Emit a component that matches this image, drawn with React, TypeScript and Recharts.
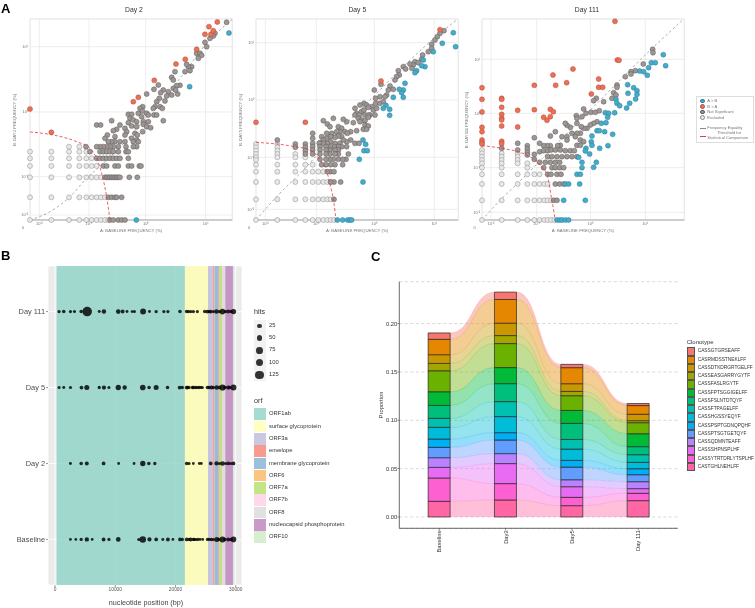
import React from "react";
import {
  Area,
  Bar,
  BarChart,
  CartesianGrid,
  ComposedChart,
  ReferenceArea,
  Scatter,
  ScatterChart,
  XAxis,
  YAxis,
  ZAxis,
} from "recharts";

type Pair = [number, number];

// Panel A: both axes use the plot's own transformed frequency scale (0 = no clones)
const powerLabels = ["10⁻²", "10⁻¹", "10⁰", "10¹"];

const day2Excluded: Pair[] = [
  [0, 205], [0, 185], [0, 162], [0, 128], [0, 68], [0, 0],
  [64, 205], [64, 185], [64, 162], [64, 128], [64, 68], [64, 0],
  [117, 220], [117, 205], [117, 185], [117, 162], [117, 128], [117, 68], [117, 0],
  [148, 220], [148, 205], [148, 185], [148, 162], [148, 128], [148, 68], [148, 0],
  [169, 205], [169, 185], [169, 162], [169, 128], [169, 68], [169, 0],
  [185, 185], [185, 162], [185, 128], [185, 68], [185, 0],
  [200, 162], [200, 128], [200, 68], [200, 0],
  [213, 128], [213, 68], [213, 0],
  [225, 68], [225, 0], [235, 0],
];
const day2Grey: Pair[] = [
  [590, 593], [555, 560], [550, 552], [540, 545], [525, 533], [530, 520], [500, 500], [510, 500], [515, 494], [505, 485],
  [485, 460], [475, 460], [470, 467], [480, 448], [465, 445], [435, 445], [425, 428], [430, 420], [450, 404], [440, 403],
  [430, 395], [443, 378], [437, 390], [425, 375], [415, 385], [400, 390], [392, 382], [410, 372], [388, 365], [380, 355],
  [405, 357], [390, 340], [375, 340], [370, 335], [397, 335], [350, 378], [372, 392], [385, 405], [338, 340], [330, 335],
  [337, 327], [325, 320], [350, 320], [355, 315], [372, 315], [380, 315], [295, 317], [305, 317], [300, 305], [310, 300],
  [320, 295], [335, 310], [340, 295], [355, 295], [340, 287], [350, 280], [362, 277], [338, 265], [400, 298], [295, 292],
  [305, 282], [320, 280], [285, 275], [290, 265], [270, 285], [260, 272], [250, 268], [232, 255], [225, 245], [245, 298],
  [200, 285], [212, 285], [255, 250], [285, 255], [315, 260], [322, 255], [305, 245], [320, 240], [310, 235], [325, 235],
  [270, 235], [285, 235], [255, 235], [245, 235], [235, 235],
  [320, 220], [310, 220], [288, 220], [265, 220], [250, 220], [240, 220], [230, 220], [220, 220], [210, 220], [200, 220], [168, 220],
  [180, 205], [210, 205], [220, 205], [230, 205], [240, 205], [250, 205], [265, 205], [288, 205], [295, 205],
  [200, 185], [210, 185], [220, 185], [230, 185], [240, 185], [250, 185], [260, 185], [270, 185], [295, 185],
  [220, 162], [230, 162], [255, 162], [265, 162], [295, 162], [305, 162], [328, 162], [333, 162],
  [225, 128], [230, 128], [235, 128], [240, 128], [245, 128], [250, 128], [255, 128], [260, 128], [265, 128], [270, 128], [298, 128], [322, 128],
  [235, 68], [245, 68], [255, 68], [260, 68], [275, 68],
  [240, 0], [250, 0], [265, 0], [275, 0], [285, 0],
];
const day2Up: Pair[] = [
  [0, 333], [64, 263], [310, 355], [325, 368], [373, 419], [438, 468], [466, 482], [500, 512], [525, 557], [543, 557], [550, 568], [537, 580], [562, 594],
];
const day2Down: Pair[] = [[479, 400], [597, 561], [319, 0]];
const day2Threshold: Pair[] = [[0, 264], [70, 255], [140, 235], [180, 215], [215, 140], [230, 70], [240, 0]];
const day2Equality: Pair[] = [[0, 0], [60, 25], [120, 70], [170, 125], [220, 170], [290, 240], [350, 310], [450, 425], [530, 530], [607, 602]];

const day5Excluded: Pair[] = [
  [0, 228], [0, 218], [0, 208], [0, 198], [0, 188], [0, 180], [0, 166], [0, 145], [0, 114], [0, 62], [0, 0],
  [64, 228], [64, 218], [64, 208], [64, 198], [64, 188], [64, 166], [64, 145], [64, 114], [64, 62], [64, 0],
  [118, 198], [118, 188], [118, 166], [118, 145], [118, 114], [118, 62], [118, 0],
  [148, 188], [148, 166], [148, 145], [148, 114], [148, 62], [148, 0],
  [170, 166], [170, 145], [170, 114], [170, 62], [170, 0],
  [187, 145], [187, 114], [187, 62], [187, 0],
  [202, 145], [202, 114], [202, 62], [202, 0],
  [214, 114], [214, 62], [214, 0],
  [224, 114], [224, 62], [224, 0], [234, 0],
];
const day5Grey: Pair[] = [
  [564, 568], [552, 560], [544, 550], [537, 540], [527, 527], [527, 515], [517, 505], [500, 495], [497, 482], [477, 475],
  [472, 465], [487, 472], [462, 468], [468, 455], [442, 460], [449, 453], [427, 448], [430, 435], [422, 430], [417, 420],
  [375, 407], [355, 390], [402, 402], [397, 390], [412, 392], [392, 375], [387, 370], [372, 370], [359, 365], [359, 350],
  [372, 350], [382, 355], [347, 340], [352, 330], [362, 335], [357, 315], [342, 315], [324, 350], [312, 345], [297, 335],
  [332, 345], [337, 338], [317, 325], [324, 330], [302, 320], [297, 315], [310, 315], [327, 315], [337, 315], [307, 305],
  [317, 300], [327, 298], [337, 308], [312, 295], [292, 292], [272, 295], [262, 302], [232, 305], [202, 298], [214, 288],
  [222, 280], [247, 280], [257, 275], [267, 265], [252, 265], [242, 265], [227, 260], [212, 260], [197, 250], [327, 285],
  [337, 282], [322, 272], [332, 272], [302, 268], [284, 265], [274, 260], [257, 250], [247, 252], [237, 248], [224, 250],
  [212, 245], [202, 240], [192, 232], [170, 260], [170, 245], [297, 230], [309, 230], [284, 240], [272, 235], [262, 240],
  [252, 230], [237, 230], [224, 235], [214, 230], [202, 230], [190, 230], [170, 230],
  [272, 220], [257, 220], [247, 220], [234, 220], [222, 220], [210, 220], [192, 220], [170, 220],
  [247, 210], [237, 210], [222, 210], [210, 210], [192, 210], [170, 210],
  [277, 198], [247, 198], [237, 198], [222, 198], [210, 198], [192, 198], [170, 198],
  [270, 182], [260, 182], [247, 182], [232, 182], [222, 182], [210, 182], [192, 182],
  [260, 166], [237, 166], [224, 166], [210, 166], [197, 166],
  [224, 145], [234, 145], [214, 145], [254, 114], [234, 114], [224, 114], [234, 62],
  [64, 240], [118, 228], [118, 218], [148, 228], [148, 218], [148, 208], [148, 198],
];
const day5Up: Pair[] = [[552, 571], [375, 417], [0, 293], [148, 293]];
const day5Down: Pair[] = [
  [592, 562], [559, 530], [599, 520], [532, 505], [502, 480], [507, 460], [497, 463], [482, 448], [477, 442], [447, 410],
  [442, 390], [437, 382], [430, 392], [412, 368], [442, 368], [390, 344], [401, 332], [401, 314], [382, 335], [321, 240],
  [329, 227], [324, 208], [334, 208], [310, 182], [321, 114], [244, 0], [260, 0], [275, 0], [282, 0], [287, 0],
];
const day5Threshold: Pair[] = [[0, 233], [62, 228], [117, 220], [167, 208], [192, 180], [214, 140], [224, 100], [234, 50], [240, 0]];
const day5Equality: Pair[] = [[0, 0], [62, 70], [142, 150], [242, 260], [352, 370], [452, 470], [552, 560], [602, 600]];

const day111Excluded: Pair[] = [
  [0, 210], [0, 200], [0, 190], [0, 180], [0, 170], [0, 157], [0, 137], [0, 108], [0, 59], [0, 0],
  [59, 200], [59, 190], [59, 180], [59, 170], [59, 157], [59, 137], [59, 108], [59, 59], [59, 0],
  [107, 200], [107, 190], [107, 180], [107, 170], [107, 137], [107, 108], [107, 59], [107, 0],
  [136, 170], [136, 157], [136, 137], [136, 108], [136, 59], [136, 0],
  [157, 137], [157, 108], [157, 59], [157, 0],
  [173, 137], [173, 108], [173, 59], [173, 0],
  [187, 108], [187, 59], [187, 0],
  [197, 108], [197, 59], [197, 0],
  [207, 59], [207, 0], [217, 0],
];
const day111Grey: Pair[] = [
  [512, 512], [513, 502], [484, 468], [460, 448], [447, 445], [447, 438], [430, 430], [405, 405], [405, 398], [395, 382],
  [402, 375], [390, 365], [365, 355], [343, 365], [335, 358], [305, 333], [312, 320], [300, 310], [283, 313], [285, 305],
  [327, 323], [340, 323], [352, 328], [345, 295], [335, 290], [325, 285], [315, 275], [305, 275], [298, 280], [285, 290],
  [265, 278], [255, 284], [250, 290], [220, 265], [205, 252], [157, 247], [295, 260], [285, 260], [270, 260], [255, 250],
  [240, 250], [280, 250], [295, 240], [305, 235], [285, 224], [295, 224], [255, 240], [235, 224], [227, 223], [205, 223],
  [195, 223], [185, 223], [173, 230], [107, 230], [59, 215], [136, 223], [136, 213], [136, 203], [136, 195], [107, 210],
  [157, 197], [173, 205], [185, 208], [197, 208], [207, 210], [220, 210], [235, 210], [250, 208], [265, 208], [277, 208], [157, 182],
  [197, 190], [210, 190], [225, 190], [240, 190], [255, 190], [270, 190], [285, 190],
  [173, 173], [190, 173], [205, 173], [220, 173], [233, 173],
  [185, 157], [210, 157], [220, 157], [233, 157], [245, 157],
  [197, 137], [207, 137], [225, 137], [237, 137],
  [220, 108], [233, 108], [245, 108], [215, 59], [225, 59],
];
const day111Up: Pair[] = [
  [399, 596], [406, 480], [411, 479], [273, 453], [213, 435], [254, 412], [157, 404], [221, 404], [350, 423], [350, 398],
  [362, 398], [328, 378], [0, 397], [0, 362], [59, 365], [59, 362], [0, 324], [59, 338], [59, 317], [107, 329],
  [157, 331], [205, 332], [214, 325], [205, 310], [185, 308], [195, 299], [59, 305], [59, 300], [59, 282], [0, 278],
  [107, 279], [0, 265], [0, 240], [0, 233], [0, 228], [59, 236], [59, 229],
];
const day111Down: Pair[] = [
  [544, 496], [551, 463], [508, 472], [520, 472], [500, 457], [473, 447], [485, 445], [496, 434], [455, 397], [465, 388],
  [438, 380], [465, 377], [461, 363], [443, 350], [434, 336], [437, 406], [402, 362], [405, 350], [413, 343], [398, 322],
  [370, 322], [380, 320], [377, 308], [372, 292], [358, 290], [345, 268], [352, 268], [368, 265], [392, 257], [330, 252],
  [328, 235], [330, 224], [312, 215], [310, 207], [323, 198], [378, 223], [353, 215], [343, 173], [335, 158], [290, 188],
  [300, 173], [300, 157], [285, 137], [295, 137], [251, 108], [260, 108], [293, 108], [245, 59], [310, 59], [225, 0],
  [233, 0], [240, 0], [250, 0], [260, 0],
];
const day111Threshold: Pair[] = [[0, 223], [60, 215], [107, 205], [140, 192], [175, 165], [197, 130], [207, 75], [220, 0]];
const day111Equality: Pair[] = [[0, 0], [55, 60], [107, 110], [235, 240], [325, 330], [405, 410], [495, 500], [600, 598]];

// Panel B
const dayLabels = ["Baseline", "Day 2", "Day 5", "Day 111"];
const baselineHits: Pair[] = [
  [2560, 3], [3450, 2], [4340, 8], [5280, 20], [6170, 3], [8060, 14], [8950, 6], [10500, 25], [13900, 5], [14570, 55],
  [15680, 18], [16790, 12], [17900, 4], [18740, 14], [19570, 3], [20740, 12], [21130, 8], [21850, 12], [22240, 8], [22520, 14],
  [22960, 8], [23100, 6], [23400, 5], [23740, 8], [24100, 3], [24520, 3], [25300, 6], [25600, 8], [25960, 10], [26300, 5],
  [26850, 30], [27200, 8], [27800, 45], [28200, 10], [28750, 15], [29200, 10], [29630, 40],
];
const day2Hits: Pair[] = [
  [2560, 4], [4340, 10], [5280, 15], [8060, 12], [10560, 3], [13120, 3], [14570, 35], [15570, 10], [16570, 8], [21850, 10],
  [22240, 6], [22960, 3], [23960, 4], [24290, 3], [25850, 12], [26800, 18], [27300, 6], [27800, 22], [28300, 5], [28750, 12],
  [29200, 6], [29630, 12],
];
const day5Hits: Pair[] = [
  [670, 6], [1450, 4], [2560, 6], [4390, 12], [5280, 30], [7340, 8], [8120, 18], [8950, 5], [10500, 35], [11560, 20],
  [14570, 40], [15620, 10], [16790, 30], [18680, 10], [20680, 12], [21130, 8], [21850, 12], [22000, 8], [22240, 10], [22800, 8],
  [23000, 8], [23350, 8], [23600, 6], [23910, 8], [24200, 4], [24460, 5], [25300, 10], [25600, 8], [25960, 15], [26300, 8],
  [26850, 20], [27300, 8], [27800, 50], [28200, 10], [28750, 18], [29000, 10], [29630, 45],
];
const day111Hits: Pair[] = [
  [670, 8], [1450, 10], [2560, 6], [3230, 5], [4340, 10], [5340, 135], [7340, 4], [8120, 22], [10500, 25], [11230, 14],
  [11950, 4], [12790, 3], [13180, 5], [14620, 45], [15680, 4], [16790, 8], [18070, 6], [18740, 6], [20740, 10], [21850, 10],
  [22150, 6], [22520, 8], [22960, 8], [23630, 6], [24850, 10], [25300, 12], [25600, 8], [25850, 12], [26300, 6], [26800, 22],
  [27300, 8], [27800, 40], [28300, 8], [28750, 14], [29200, 10], [29630, 35],
];
const hitsByDay = [baselineHits, day2Hits, day5Hits, day111Hits];
const hitsLegend = [25, 50, 75, 100, 125];

const orfNames = ["ORF1ab", "surface glycoprotein", "ORF3a", "envelope", "membrane glycoprotein", "ORF6", "ORF7a", "ORF7b", "ORF8", "nucleocapsid phosphoprotein", "ORF10"];
const orfStarts = [266, 21563, 25393, 26245, 26523, 27202, 27394, 27756, 27894, 28274, 29558];
const orfEnds = [21555, 25384, 26220, 26472, 27191, 27387, 27759, 27887, 28259, 29533, 29674];
const orfColors = ["#8DD3C7", "#FFFFB3", "#BEBADA", "#FB8072", "#80B1D3", "#FDB462", "#B3DE69", "#FCCDE5", "#D9D9D9", "#BC80BD", "#CCEBC5"];

// Panel C
const timepoints = ["Baseline", "Day2", "Day5", "Day 111"];
const clonotypes = [
  "CASSGTGRSEAFF", "CASRMDSSTNEKLFF", "CASSDTKDRGRTGELFF", "CASSEASGARRYGYTF", "CASSFASLRGYTF",
  "CASSFPTSGGIGELFF", "CASSFSLNTDTQYF", "CASSFTPAGELFF", "CASSHGSSYEQYF", "CASSPSPTGDNQPQHF",
  "CASSPTSGTGETQYF", "CASSQDMNTEAFF", "CASSSHPNSPLHF", "CASSYTRTDRLYTSPLHF", "CASTGHLNEHLFF",
];
const cloneColors = ["#F8766D", "#E58700", "#C99800", "#A3A500", "#6BB100", "#00BA38", "#00BF7D", "#00C0AF", "#00BCD8", "#00B0F6", "#619CFF", "#B983FF", "#E76BF3", "#FD61D1", "#FF67A4"];
const baselineShare = [0.0066, 0.0159, 0.009, 0.0076, 0.0217, 0.0141, 0.0134, 0.0093, 0.0121, 0.0086, 0.0107, 0.01, 0.011, 0.0241, 0.0162];
const day2Share = [0.0076, 0.0245, 0.0128, 0.0083, 0.0248, 0.0166, 0.0186, 0.0155, 0.0166, 0.0076, 0.0141, 0.0103, 0.0207, 0.0169, 0.0176];
const day5Share = [0.0034, 0.0166, 0.0079, 0.0045, 0.0152, 0.0134, 0.0166, 0.01, 0.0117, 0.0069, 0.0131, 0.0072, 0.011, 0.0086, 0.0117];
const day111Share = [0.0021, 0.009, 0.0066, 0.0021, 0.0114, 0.0134, 0.0083, 0.0079, 0.0066, 0.0062, 0.0072, 0.0072, 0.0048, 0.0076, 0.0169];
const shares = [baselineShare, day2Share, day5Share, day111Share];
const proportionTicks = [0, 0.05, 0.1, 0.15, 0.2];

const BAR_HALF = 0.166;
const TIME_DOMAIN = [-0.603, 3.594];
const SHARE_DOMAIN = [-0.0117, 0.2433];

// each time point gets flat shoulders at its bar edges, the ribbons curve between them
const flowRows: Record<string, number>[] = [];
shares.forEach((share, t) => {
  [t - BAR_HALF, t, t + BAR_HALF].forEach((position) => {
    const row: Record<string, number> = { position };
    share.forEach((v, i) => {
      row[`flow${i}`] = v;
    });
    flowRows.push(row);
  });
});
const barRows = shares.map((share, t) => {
  const row: Record<string, number> = { position: t };
  share.forEach((v, i) => {
    row[`bar${i}`] = v;
  });
  return row;
});
const stackOrder = clonotypes.map((_, i) => clonotypes.length - 1 - i);

const toRows = (pairs: Pair[]) => pairs.map(([x, y]) => ({ x, y }));

const dot = (fill: string, stroke: string) => (p: any) => (
  <circle cx={p.cx} cy={p.cy} r={2.5} fill={fill} stroke={stroke} strokeWidth={0.5} />
);
const noDot = () => <g />;

const Txt = ({ x, y, size, color = "#333", anchor = "left", rotate, bold, children }: any) => {
  const tx = anchor === "center" ? "-50%" : anchor === "right" ? "-100%" : "0";
  return (
    <div
      style={{
        position: "absolute",
        left: x,
        top: y,
        fontSize: size,
        color,
        fontWeight: bold ? 700 : 400,
        lineHeight: 1,
        whiteSpace: "nowrap",
        transform: `translate(${tx}, -50%)${rotate ? ` rotate(${rotate}deg)` : ""}`,
      }}
    >
      {children}
    </div>
  );
};

const FrequencyPanel = ({ title, titleX, yTitle, left, right, xTicks, yTicks, excluded, grey, up, down, threshold, equality }: any) => {
  const axisWidth = 30;
  return (
    <>
      <div style={{ position: "absolute", left: left - axisWidth, top: 0 }}>
        <ScatterChart
          width={right - left + axisWidth + 3}
          height={240}
          margin={{ top: 19, right: 3, bottom: 0, left: 0 }}
        >
          <CartesianGrid stroke="#e6e6e6" strokeWidth={0.7} />
          <ReferenceArea x1={0} x2={607} y1={0} y2={603} fill="none" stroke="#e4e4e4" strokeWidth={0.7} />
          <XAxis
            type="number"
            dataKey="x"
            domain={[0, 607]}
            ticks={xTicks}
            interval={0}
            height={20}
            tickFormatter={(_: number, i: number) => powerLabels[i]}
            tick={{ fontSize: 4, fill: "#777" }}
            tickLine={false}
            tickSize={0}
            tickMargin={2}
            axisLine={{ stroke: "#999", strokeWidth: 0.8 }}
          />
          <YAxis
            type="number"
            dataKey="y"
            domain={[0, 603]}
            ticks={yTicks}
            interval={0}
            width={axisWidth}
            tickFormatter={(_: number, i: number) => powerLabels[i]}
            tick={{ fontSize: 4, fill: "#777" }}
            tickLine={false}
            tickSize={0}
            tickMargin={2}
            axisLine={false}
          />
          <Scatter data={toRows(equality)} line={{ stroke: "#888", strokeWidth: 0.7, strokeDasharray: "2.5 2.5" }} lineJointType="monotoneX" shape={noDot} isAnimationActive={false} />
          <Scatter data={toRows(excluded)} shape={dot("#e8e8e8", "#8a8a8a")} isAnimationActive={false} />
          <Scatter data={toRows(grey)} shape={dot("#9c9694", "#5f5a58")} isAnimationActive={false} />
          <Scatter data={toRows(down)} shape={dot("#46abc9", "#2f7f97")} isAnimationActive={false} />
          <Scatter data={toRows(up)} shape={dot("#ee6e56", "#a9503f")} isAnimationActive={false} />
          <Scatter data={toRows(threshold)} line={{ stroke: "#e0394a", strokeWidth: 0.8, strokeDasharray: "3 2" }} lineJointType="monotoneX" shape={noDot} isAnimationActive={false} />
        </ScatterChart>
      </div>
      <Txt x={titleX} y={10} size={6.8} anchor="center">{title}</Txt>
      <Txt x={left - 15} y={120} size={4.3} color="#777" anchor="center" rotate={-90}>{yTitle}</Txt>
      <Txt x={(left + right) / 2} y={230.5} size={4.3} color="#777" anchor="center">A: BASELINE FREQUENCY (%)</Txt>
      <Txt x={left - 7} y={228} size={4} color="#777" anchor="center">0</Txt>
    </>
  );
};

const frequencyKey = [
  { label: "A > B", fill: "#46abc9", stroke: "#2f7f97", y: 101 },
  { label: "B > A", fill: "#ee6e56", stroke: "#a9503f", y: 106.5 },
  { label: "Not Significant", fill: "#9c9694", stroke: "#5f5a58", y: 112 },
  { label: "Excluded", fill: "#e8e8e8", stroke: "#8a8a8a", y: 117.5 },
];

const FrequencyLegend = () => (
  <>
    <div style={{ position: "absolute", left: 696, top: 96, width: 58, height: 47, border: "0.7px solid #dedede", boxSizing: "border-box" }} />
    {frequencyKey.map((k) => (
      <React.Fragment key={k.label}>
        <div style={{ position: "absolute", left: 700.3, top: k.y - 2.4, width: 4.8, height: 4.8, borderRadius: "50%", background: k.fill, border: `0.5px solid ${k.stroke}`, boxSizing: "border-box" }} />
        <Txt x={707.3} y={k.y} size={4.1} color="#777">{k.label}</Txt>
      </React.Fragment>
    ))}
    <div style={{ position: "absolute", left: 699.5, top: 128.3, width: 6.5, borderTop: "0.7px dashed #888" }} />
    <Txt x={707.3} y={128.3} size={4.1} color="#777">Frequency Equality</Txt>
    <div style={{ position: "absolute", left: 699.5, top: 136, width: 6.5, borderTop: "0.8px dashed #e0394a" }} />
    <Txt x={717} y={133.4} size={4.1} color="#777">Threshold for</Txt>
    <Txt x={707.3} y={138.2} size={4.1} color="#777">Statistical Comparison</Txt>
  </>
);

const DayTick = ({ x, y, payload }: any) => (
  <text x={x} y={y} dy={2.6} textAnchor="end" fontSize={7.4} fill="#4d4d4d">
    {dayLabels[payload.value]}
  </text>
);

const TimeTick = ({ x, y, payload }: any) => (
  <text x={x} y={y} dy={2} transform={`rotate(-90 ${x} ${y})`} textAnchor="end" fontSize={5.8} fill="#333">
    {timepoints[payload.value]}
  </text>
);

const GenomePanel = () => (
  <>
    <div style={{ position: "absolute", left: 0, top: 240 }}>
      <ScatterChart width={252} height={368} margin={{ top: 26, right: 10, bottom: 0, left: 0 }}>
        <CartesianGrid stroke="#fff" strokeWidth={0.8} fill="#ebebeb" />
        {orfNames.map((name, i) => (
          <ReferenceArea key={name} x1={orfStarts[i]} x2={orfEnds[i]} y1={-0.6} y2={3.6} fill={orfColors[i]} fillOpacity={0.8} stroke="none" />
        ))}
        <XAxis
          type="number"
          dataKey="position"
          domain={[-1165, 31040]}
          ticks={[0, 10000, 20000, 30000]}
          interval={0}
          height={23}
          tick={{ fontSize: 4.8, fill: "#555" }}
          tickSize={2}
          tickMargin={1}
          tickLine={{ stroke: "#555", strokeWidth: 0.6 }}
          axisLine={false}
        />
        <YAxis
          type="number"
          dataKey="day"
          domain={[-0.6, 3.6]}
          ticks={[0, 1, 2, 3]}
          interval={0}
          width={48}
          tick={<DayTick />}
          tickSize={2}
          tickMargin={1}
          tickLine={{ stroke: "#555", strokeWidth: 0.6 }}
          axisLine={false}
        />
        <ZAxis type="number" dataKey="hits" domain={[0, 130]} range={[5, 72]} />
        {hitsByDay.map((hits, day) => (
          <Scatter
            key={day}
            data={hits.map(([position, count]) => ({ position, day, hits: count }))}
            fill="#000"
            fillOpacity={0.82}
            isAnimationActive={false}
          />
        ))}
      </ScatterChart>
    </div>
    <Txt x={146} y={602.7} size={7.2} color="#444" anchor="center">nucleotide position (bp)</Txt>

    <Txt x={254} y={312} size={7.2} color="#333">hits</Txt>
    <div style={{ position: "absolute", left: 254, top: 320, width: 12, height: 61, background: "#f2f2f2" }} />
    {hitsLegend.map((h, i) => {
      const r = Math.sqrt((3 + (57 * h) / 130) / Math.PI);
      const y = 325.7 + i * 12.3;
      return (
        <React.Fragment key={h}>
          <div style={{ position: "absolute", left: 259.5 - r, top: y - r, width: 2 * r, height: 2 * r, borderRadius: "50%", background: "#333" }} />
          <Txt x={269} y={y} size={5.8} color="#333">{h}</Txt>
        </React.Fragment>
      );
    })}

    <Txt x={254} y={401} size={7.2} color="#333">orf</Txt>
    {orfNames.map((name, i) => {
      const y = 414.3 + i * 12.3;
      return (
        <React.Fragment key={name}>
          <div style={{ position: "absolute", left: 254, top: y - 6, width: 11.5, height: 11.7, background: orfColors[i], opacity: 0.8 }} />
          <Txt x={269} y={y} size={5.8} color="#333">{name}</Txt>
        </React.Fragment>
      );
    })}
  </>
);

const ClonotypePanel = () => (
  <>
    <div style={{ position: "absolute", left: 360, top: 240 }}>
      <ComposedChart
        width={320}
        height={368}
        data={flowRows}
        margin={{ top: 41.7, right: 2.3, bottom: 0, left: 0 }}
      >
        <CartesianGrid vertical={false} stroke="#cfcfcf" strokeWidth={0.8} strokeDasharray="3 2.5" />
        <XAxis
          type="number"
          dataKey="position"
          domain={TIME_DOMAIN}
          ticks={[0, 1, 2, 3]}
          interval={0}
          height={79.7}
          tick={<TimeTick />}
          tickSize={2}
          tickMargin={0}
          tickLine={{ stroke: "#444", strokeWidth: 0.6 }}
          axisLine={{ stroke: "#444", strokeWidth: 0.8 }}
        />
        <YAxis
          type="number"
          domain={SHARE_DOMAIN}
          ticks={proportionTicks}
          interval={0}
          allowDataOverflow
          width={39.3}
          tickFormatter={(v: number) => v.toFixed(2)}
          tick={{ fontSize: 5.8, fill: "#333" }}
          tickSize={2}
          tickMargin={0}
          tickLine={{ stroke: "#444", strokeWidth: 0.6 }}
          axisLine={{ stroke: "#444", strokeWidth: 0.8 }}
        />
        {stackOrder.map((i) => (
          <Area
            key={`flow${i}`}
            dataKey={`flow${i}`}
            stackId="flow"
            type="bump"
            fill={cloneColors[i]}
            fillOpacity={0.42}
            stroke={cloneColors[i]}
            strokeOpacity={0.5}
            strokeWidth={0.5}
            dot={false}
            activeDot={false}
            isAnimationActive={false}
          />
        ))}
      </ComposedChart>
    </div>
    {/* bars sit in their own chart: on the ribbon rows the numeric axis would squeeze them */}
    <div style={{ position: "absolute", left: 360, top: 240 }}>
      <BarChart
        width={320}
        height={368}
        data={barRows}
        margin={{ top: 41.7, right: 2.3, bottom: 79.7, left: 39.3 }}
      >
        <XAxis hide type="number" dataKey="position" domain={TIME_DOMAIN} />
        <YAxis hide type="number" domain={SHARE_DOMAIN} allowDataOverflow />
        {stackOrder.map((i) => (
          <Bar
            key={`bar${i}`}
            dataKey={`bar${i}`}
            stackId="bars"
            barSize={22}
            fill={cloneColors[i]}
            stroke="#2a2a2a"
            strokeWidth={0.7}
            isAnimationActive={false}
          />
        ))}
      </BarChart>
    </div>
    <Txt x={381.7} y={405} size={5.8} color="#333" anchor="center" rotate={-90}>Proportion</Txt>

    <Txt x={686.7} y={341.7} size={6} color="#333">Clonotype</Txt>
    {clonotypes.map((name, i) => {
      const top = 347.3 + i * 8.25;
      return (
        <React.Fragment key={name}>
          <div style={{ position: "absolute", left: 686.7, top, width: 8, height: 8.25, background: cloneColors[i], border: "0.6px solid #555", boxSizing: "border-box" }} />
          <Txt x={697.7} y={top + 4} size={4.8} color="#333">{name}</Txt>
        </React.Fragment>
      );
    })}
  </>
);

export default function App() {
  return (
    <div style={{ position: "absolute", left: 0, top: 0, width: 755, height: 608, overflow: "hidden", background: "#fff", fontFamily: "'Liberation Sans', sans-serif", filter: "blur(0.3px)" }}>
      <FrequencyPanel title="Day 2" titleX={134} yTitle="B: DAY2 FREQUENCY (%)" left={30} right={232.3} xTicks={[28, 177, 347, 527]} yTicks={[15, 130, 324, 520]} excluded={day2Excluded} grey={day2Grey} up={day2Up} down={day2Down} threshold={day2Threshold} equality={day2Equality} />
      <FrequencyPanel title="Day 5" titleX={357.3} yTitle="B: DAY5 FREQUENCY (%)" left={256} right={458.3} xTicks={[28, 181, 355, 535]} yTicks={[32, 188, 360, 532]} excluded={day5Excluded} grey={day5Grey} up={day5Up} down={day5Down} threshold={day5Threshold} equality={day5Equality} />
      <FrequencyPanel title="Day 111" titleX={587} yTitle="B: DAY111 FREQUENCY (%)" left={481.7} right={684} xTicks={[27, 164, 325, 490]} yTicks={[23, 157, 320, 482]} excluded={day111Excluded} grey={day111Grey} up={day111Up} down={day111Down} threshold={day111Threshold} equality={day111Equality} />
      <FrequencyLegend />
      <GenomePanel />
      <ClonotypePanel />
      <Txt x={1} y={7.5} size={13} color="#000" bold>A</Txt>
      <Txt x={1} y={255} size={13} color="#000" bold>B</Txt>
      <Txt x={371} y={255.5} size={13} color="#000" bold>C</Txt>
    </div>
  );
}
